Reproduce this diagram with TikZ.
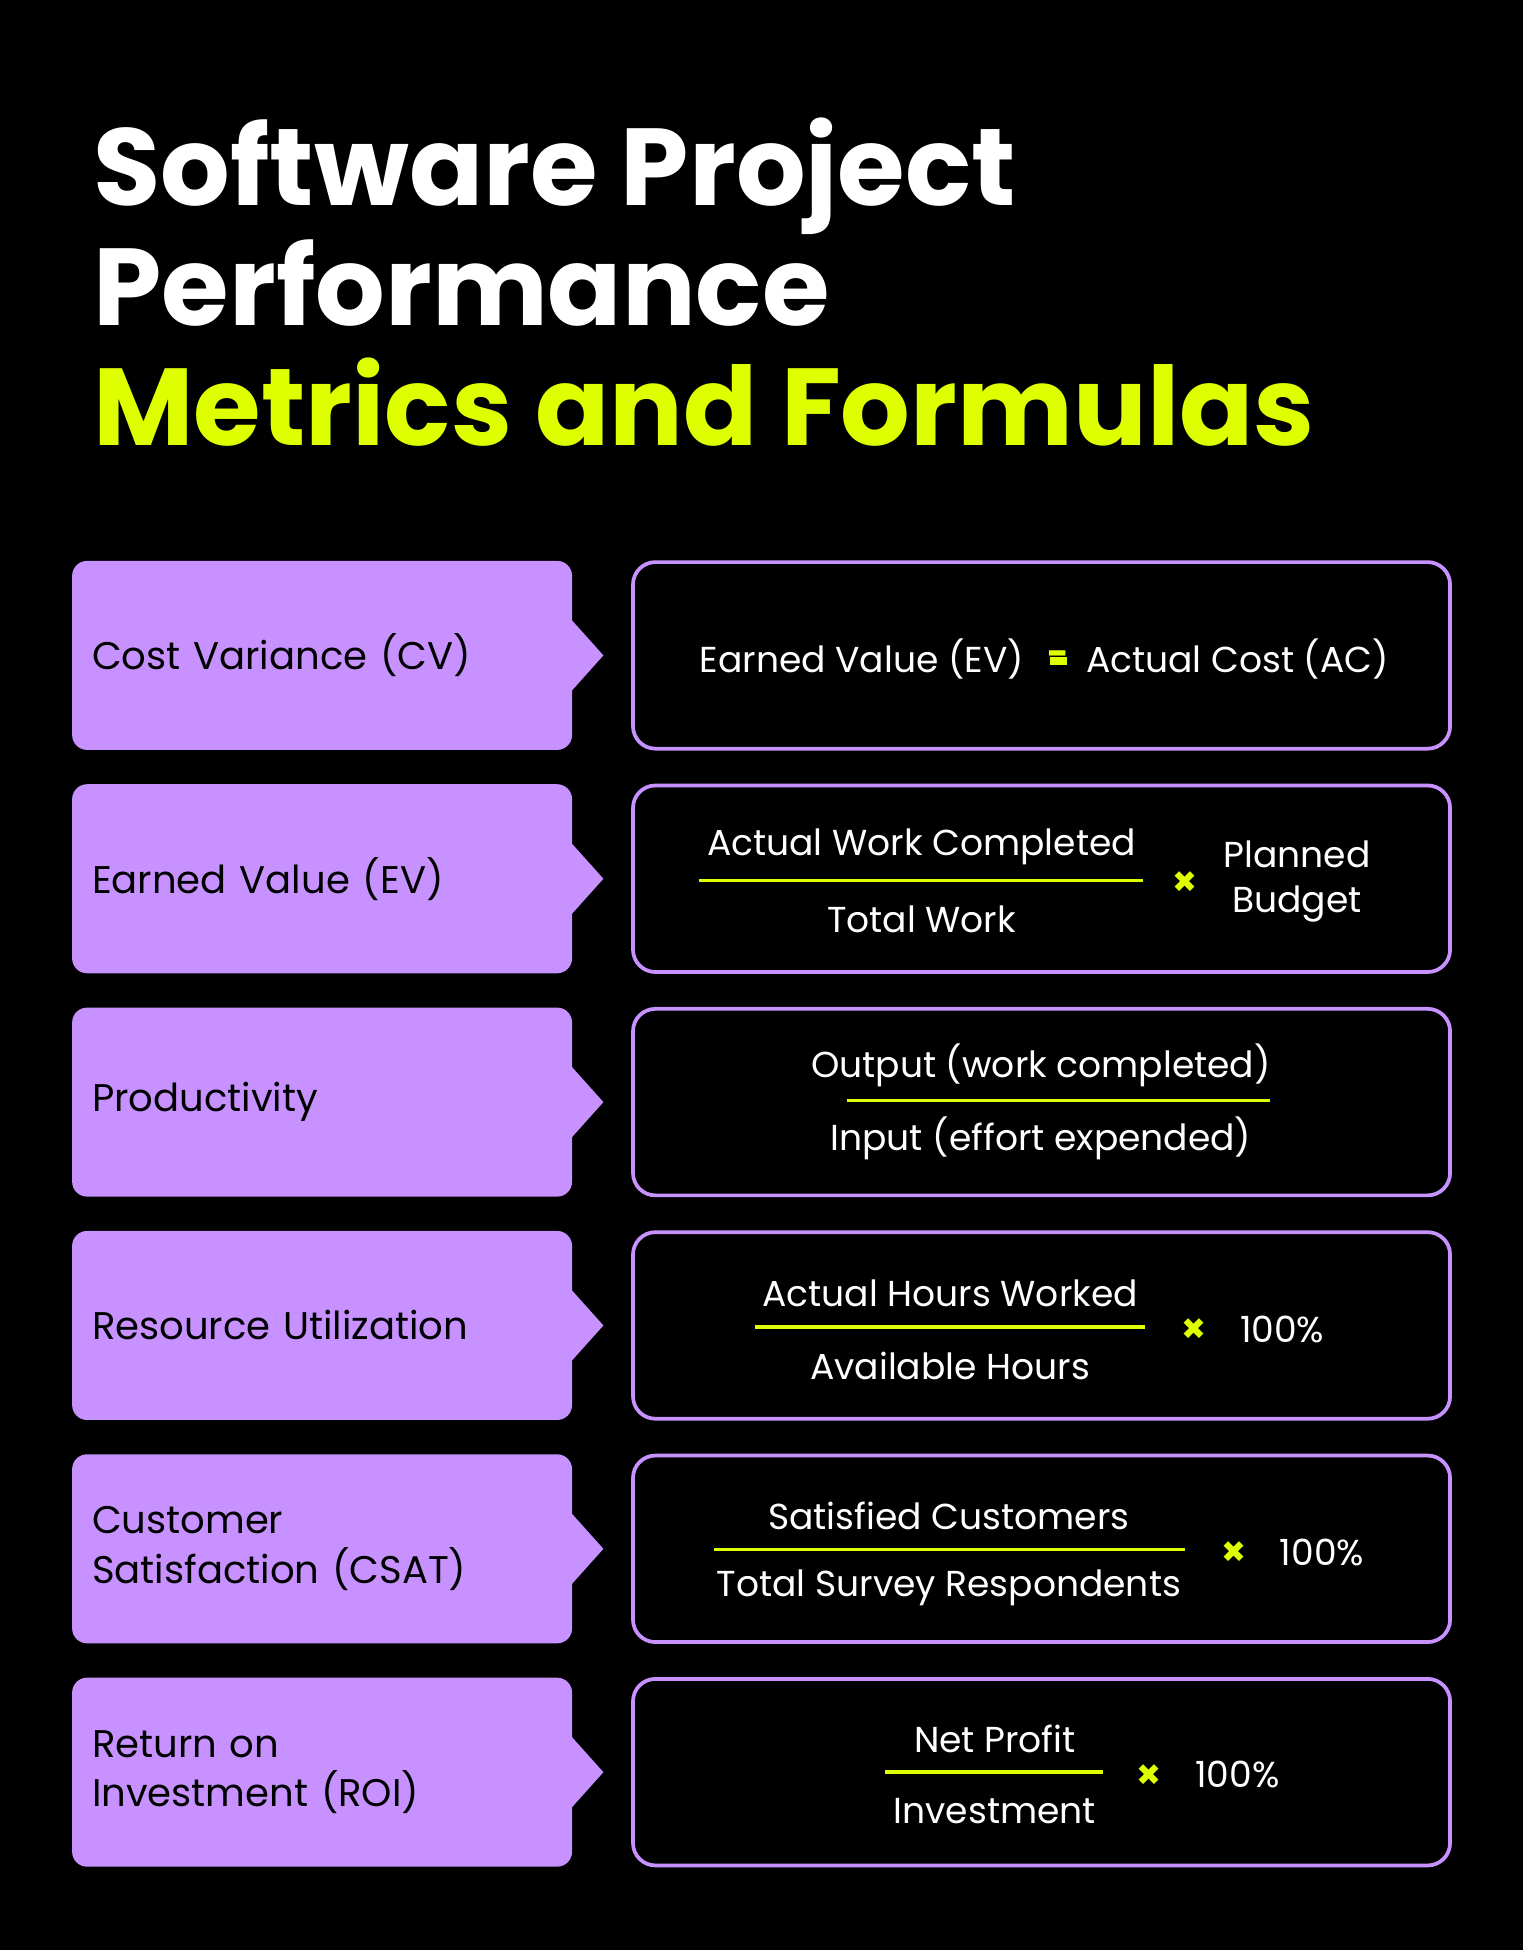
\documentclass[tikz,border=0pt]{standalone}
\usepackage{fontspec}
\setmainfont{Poppins}
\newfontfamily\symfont{DejaVu Sans}
\usetikzlibrary{positioning,calc}
\definecolor{lilac}{HTML}{C792FF}
\definecolor{lime}{HTML}{DDFF00}
\tikzset{
  metricbox/.style={fill=lilac, rounded corners=12pt, minimum width=402pt, minimum height=152pt,
    text width=370pt, align=left, inner xsep=16pt, font=\fontsize{31}{40}\selectfont, text=black},
  formbox/.style={draw=lilac, line width=3pt, rounded corners=18pt, minimum width=657pt, minimum height=150pt},
  formtext/.style={text=white, font=\fontsize{29}{36}\selectfont, inner sep=0pt},
  fracline/.style={lime, line width=3pt},
  opsign/.style={text=lime, font=\symfont\fontsize{24}{24}\selectfont, inner sep=0pt},
}
\begin{document}
\begin{tikzpicture}[x=1pt,y=-1pt]
\fill[black] (0,0) rectangle (1225,1568);
\useasboundingbox (0,0) rectangle (1225,1568);
% title
\node[anchor=base west, text=white, font=\fontsize{88}{96}\bfseries, inner sep=0pt] (t1) at (75,165) {Software Project};
\node[anchor=base west, text=white, font=\fontsize{88}{96}\bfseries, inner sep=0pt] (t2) at (75,262) {Performance};
\node[anchor=base west, text=lime, font=\fontsize{88}{96}\bfseries, inner sep=0pt] (t3) at (75,358) {Metrics and Formulas};
% rows
\foreach \i/\lbl in {1/{Cost Variance (CV)},2/{Earned Value (EV)},3/{Productivity},4/{Resource Utilization},5/{Customer\\Satisfaction (CSAT)},6/{Return on\\Investment (ROI)}}{
  \pgfmathsetmacro{\yy}{527+179.6*(\i-1)}
  \node[metricbox] (m\i) at (259,\yy) {\lbl};
  \fill[lilac] ($(m\i.east)+(-1,-29)$) -- ($(m\i.east)+(25,0)$) -- ($(m\i.east)+(-1,29)$) -- cycle;
  \node[formbox] (f\i) at (837.5,\yy) {};
}
% row 1
\node[formtext] (ev) at (693,530) {Earned Value (EV)};
\node[opsign, font=\fontsize{30}{30}\bfseries] (minus) at (851,530) {-};
\fill[lime] (844,528) rectangle (858,535);
\node[formtext] (ac) at (995,530) {Actual Cost (AC)};
% row 2
\node[formtext] (n2) at (741,681) {Actual Work Completed};
\draw[fracline] (562,708) -- (919,708);
\node[formtext] (d2) at (741,739) {Total Work};
\node[opsign] (x2) at (953,709) {✖};
\node[formtext, align=center] (b2) at (1043,709) {Planned\\Budget};
% row 3
\node[formtext] (n3) at (837,857) {Output (work completed)};
\draw[fracline] (681,885) -- (1021,885);
\node[formtext] (d3) at (837,915) {Input (effort expended)};
% row 4
\node[formtext] (n4) at (764,1040) {Actual Hours Worked};
\draw[fracline] (607,1067) -- (921,1067);
\node[formtext] (d4) at (764,1098) {Available Hours};
\node[opsign] (x4) at (960,1069) {✖};
\node[formtext] (p4) at (1031,1069) {100\%};
% row 5
\node[formtext] (n5) at (763,1219) {Satisfied Customers};
\draw[fracline] (574,1246) -- (953,1246);
\node[formtext] (d5) at (763,1277) {Total Survey Respondents};
\node[opsign] (x5) at (992,1248) {✖};
\node[formtext] (p5) at (1063,1248) {100\%};
% row 6
\node[formtext] (n6) at (800,1398) {Net Profit};
\draw[fracline] (712,1425) -- (887,1425);
\node[formtext] (d6) at (800,1456) {Investment};
\node[opsign] (x6) at (924,1427) {✖};
\node[formtext] (p6) at (995,1427) {100\%};
\end{tikzpicture}
\end{document}
